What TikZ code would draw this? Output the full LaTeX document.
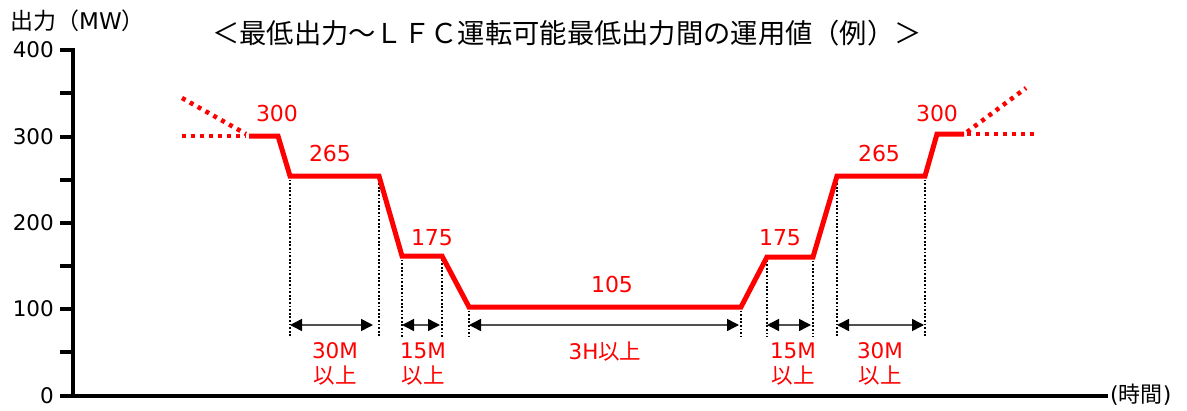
\documentclass[tikz,border=0pt]{standalone}
\usepackage{fontspec}
\setmainfont{DejaVu Sans}
\newfontfamily\cjk{Noto Sans CJK JP}
\usetikzlibrary{arrows.meta}
\definecolor{ared}{HTML}{FF0000}
\definecolor{agray}{HTML}{505050}
\tikzset{
  axisline/.style={line width=4pt, black},
  tickline/.style={line width=4pt, black},
  ticklbl/.style={anchor=east, inner sep=0pt, font=\fontsize{21.5}{23}\selectfont},
  redline/.style={line width=5pt, ared, line join=miter},
  reddot/.style={line width=4.5pt, ared, dash pattern=on 4pt off 5pt},
  guide/.style={line width=1.8pt, black, dash pattern=on 1.8pt off 1.8pt},
  span/.style={line width=1.5pt, agray, {Triangle[length=12pt,width=12pt,black]}-{Triangle[length=12pt,width=12pt,black]}},
  vallbl/.style={ared, inner sep=0pt, font=\fontsize{22}{24}\selectfont},
  durlbl/.style={ared, inner sep=0pt, align=center, font=\fontsize{21.5}{25}\selectfont},
}
\begin{document}
\begin{tikzpicture}[x=1pt,y=-1pt]
\useasboundingbox (0,0) rectangle (1187,410);
% title and axis labels
\node[inner sep=0pt, font=\fontsize{27.3}{30}\selectfont] (title) at (567,33) {\cjk ＜最低出力～ＬＦＣ運転可能最低出力間の運用値（例）＞};
\node[anchor=west, inner sep=0pt, font=\fontsize{23}{25}\selectfont] (ylab) at (10,21) {{\cjk 出力（}MW{\cjk ）}};
% axes
\coordinate (ytop) at (73,48);
\coordinate (orig) at (73,396);
\coordinate (xend) at (1108,396);
\draw[axisline] (ytop) -- (orig) -- (xend);
\node[anchor=west, inner sep=0pt, font=\fontsize{22}{24}\selectfont] (xlab) at (1110,395) {({\cjk 時間})};
% ticks
\foreach \y/\l in {50/400,137/300,223/200,309/100,396/0}{
  \coordinate (t\l) at (60,\y);
  \draw[tickline] (t\l) -- (73,\y);
  \node[ticklbl] (tl\l) at (54,\y) {\l};
}
\foreach \y in {93,180,266,352}{
  \coordinate (m\y) at (60,\y);
  \draw[tickline] (m\y) -- (73,\y);
}
% red profile points
\coordinate (A) at (249,136);
\coordinate (B) at (278,136);
\coordinate (C) at (290,176);
\coordinate (D) at (379,176);
\coordinate (E) at (402,256);
\coordinate (F) at (442,256);
\coordinate (G) at (469,307);
\coordinate (H) at (741,307);
\coordinate (I) at (767,257);
\coordinate (J) at (813,257);
\coordinate (K) at (837,176);
\coordinate (L) at (925,176);
\coordinate (M) at (937,134);
\coordinate (N) at (964,134);
% dotted continuations
\coordinate (lh) at (182,136);
\coordinate (ld) at (182,98);
\coordinate (la) at (246,136);
\coordinate (lb) at (246,134);
\coordinate (rh) at (1035,134);
\coordinate (rd) at (1026,88);
\coordinate (ra) at (967,134);
\coordinate (rb) at (967,132);
\draw[reddot] (lh) -- (la);
\draw[reddot] (ld) -- (lb);
\draw[reddot] (ra) -- (rh);
\draw[reddot] (rb) -- (rd);
% guides
\foreach \p in {C,D,E,F,G,H,I,J,K,L}{
  \draw[guide] (\p) -- (\p |- 0,337);
}
\draw[redline] (A) -- (B) -- (C) -- (D) -- (E) -- (F) -- (G) -- (H) -- (I) -- (J) -- (K) -- (L) -- (M) -- (N);
% span arrows
\coordinate (s1a) at (290,325); \coordinate (s1b) at (373,325);
\coordinate (s2a) at (402,325); \coordinate (s2b) at (440,325);
\coordinate (s3a) at (469,325); \coordinate (s3b) at (739,325);
\coordinate (s4a) at (767,325); \coordinate (s4b) at (811,325);
\coordinate (s5a) at (837,325); \coordinate (s5b) at (924,325);
\draw[span] (s1a) -- (s1b);
\draw[span] (s2a) -- (s2b);
\draw[span] (s3a) -- (s3b);
\draw[span] (s4a) -- (s4b);
\draw[span] (s5a) -- (s5b);
% value labels
\node[vallbl] (v1) at (277,113) {300};
\node[vallbl] (v2) at (330,153) {265};
\node[vallbl] (v3) at (432,238) {175};
\node[vallbl] (v4) at (612,284) {105};
\node[vallbl] (v5) at (780,238) {175};
\node[vallbl] (v6) at (879,153) {265};
\node[vallbl] (v7) at (937,113) {300};
% duration labels
\node[durlbl] (d1) at (335,364) {30M\\{\cjk 以上}};
\node[durlbl] (d2) at (423,364) {15M\\{\cjk 以上}};
\node[durlbl] (d3) at (605,352) {3H{\cjk 以上}};
\node[durlbl] (d4) at (793,364) {15M\\{\cjk 以上}};
\node[durlbl] (d5) at (880,364) {30M\\{\cjk 以上}};
\end{tikzpicture}
\end{document}
